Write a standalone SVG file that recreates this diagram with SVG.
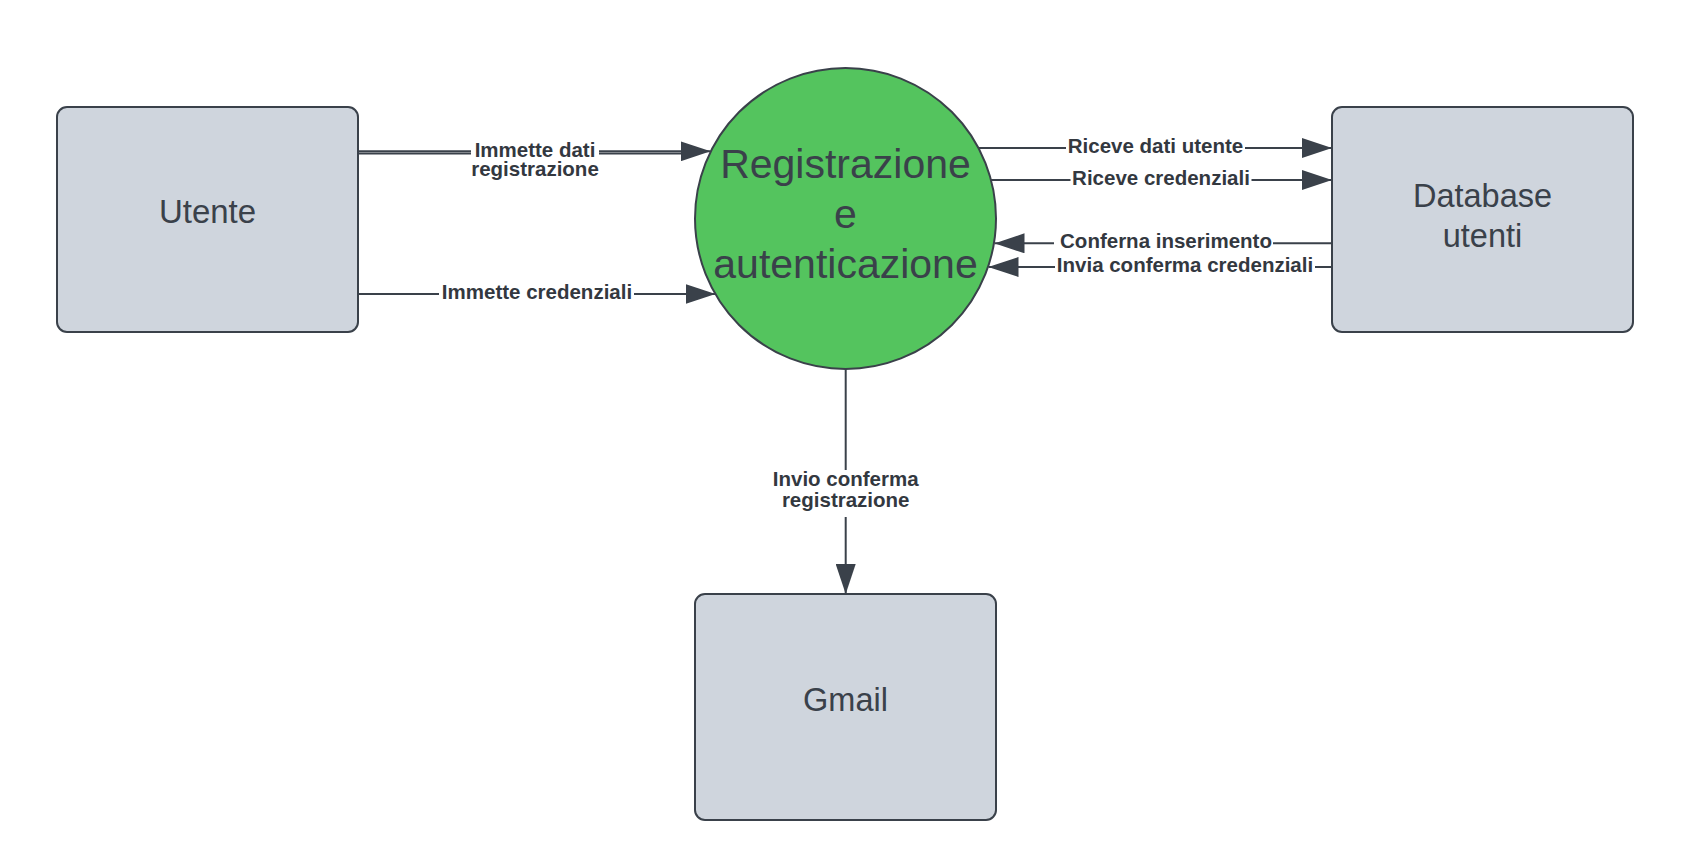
<svg xmlns="http://www.w3.org/2000/svg" width="1688" height="868" viewBox="0 0 1688 868">
  <defs>
    <marker id="arrow" markerUnits="userSpaceOnUse" markerWidth="30" markerHeight="20" refX="30" refY="10" orient="auto" viewBox="0 0 30 20">
      <path d="M0,0 L30,10 L0,20 Z" fill="#3a414a"/>
    </marker>
    <style>
      .box { fill: #cfd5dd; stroke: #3a414a; stroke-width: 2; }
      .proc { fill: #54c45e; stroke: #3a414a; stroke-width: 2; }
      .ntext { font-family: "Liberation Sans", Arial, sans-serif; fill: #3a414a; text-anchor: middle; }
      .conn { fill: none; stroke: #3a414a; stroke-width: 2; }
      .lbg { fill: #ffffff; }
      .ltext { font-family: "Liberation Sans", Arial, sans-serif; font-weight: bold; font-size: 20.5px; fill: #33383f; text-anchor: middle; }
    </style>
  </defs>
  <rect width="1688" height="868" fill="#ffffff"/>

  <g id="connectors">
    <g id="c-immette-dati">
      <path class="conn" d="M358,151.3 H710.6" marker-end="url(#arrow)" stroke-width="1.6"/>
      <path class="conn" d="M358,153.5 H681" stroke-width="1.6"/>
      <rect class="lbg" x="471" y="140" width="128" height="42"/>
      <text class="ltext" x="535" y="156.5">Immette dati</text>
      <text class="ltext" x="535" y="175.5">registrazione</text>
    </g>
    <g id="c-immette-credenziali">
      <path class="conn" d="M358,294 H715.5" marker-end="url(#arrow)"/>
      <rect class="lbg" x="439" y="284" width="195" height="20"/>
      <text class="ltext" x="537" y="298.5">Immette credenziali</text>
    </g>
    <g id="c-riceve-dati">
      <path class="conn" d="M978.5,148 H1332" marker-end="url(#arrow)"/>
      <rect class="lbg" x="1066" y="138" width="179" height="20"/>
      <text class="ltext" x="1155.5" y="152.5">Riceve dati utente</text>
    </g>
    <g id="c-riceve-credenziali">
      <path class="conn" d="M991,180 H1332" marker-end="url(#arrow)"/>
      <rect class="lbg" x="1070.5" y="170" width="181" height="20"/>
      <text class="ltext" x="1161" y="184.5">Riceve credenziali</text>
    </g>
    <g id="c-conferma-inserimento">
      <path class="conn" d="M1332,243.3 H994.5" marker-end="url(#arrow)"/>
      <rect class="lbg" x="1054" y="233" width="219" height="20"/>
      <text class="ltext" x="1166" y="247.8">Conferna inserimento</text>
    </g>
    <g id="c-invia-conferma">
      <path class="conn" d="M1332,267 H988.5" marker-end="url(#arrow)"/>
      <rect class="lbg" x="1055" y="257" width="260" height="20"/>
      <text class="ltext" x="1185" y="271.5">Invia conferma credenziali</text>
    </g>
    <g id="c-invio-conferma">
      <path class="conn" d="M845.7,369 V594" marker-end="url(#arrow)"/>
      <rect class="lbg" x="770" y="470" width="152" height="47"/>
      <text class="ltext" x="845.7" y="486">Invio conferma</text>
      <text class="ltext" x="845.7" y="506.5">registrazione</text>
    </g>
  </g>

  <g id="node-utente">
    <rect class="box" x="57" y="107" width="301" height="225" rx="10" ry="10"/>
    <text class="ntext" x="207.5" y="223" font-size="33">Utente</text>
  </g>

  <g id="node-processo">
    <circle class="proc" cx="845.5" cy="218.5" r="150.5"/>
    <text class="ntext" x="845.5" y="177.7" font-size="41">Registrazione</text>
    <text class="ntext" x="845.5" y="227.5" font-size="41">e</text>
    <text class="ntext" x="845.5" y="277.7" font-size="41">autenticazione</text>
  </g>

  <g id="node-database">
    <rect class="box" x="1332" y="107" width="301" height="225" rx="10" ry="10"/>
    <text class="ntext" x="1482.5" y="206.7" font-size="32.5">Database</text>
    <text class="ntext" x="1482.5" y="246.7" font-size="32.5">utenti</text>
  </g>

  <g id="node-gmail">
    <rect class="box" x="695" y="594" width="301" height="226" rx="10" ry="10"/>
    <text class="ntext" x="845.5" y="710.7" font-size="32.5">Gmail</text>
  </g>
</svg>
